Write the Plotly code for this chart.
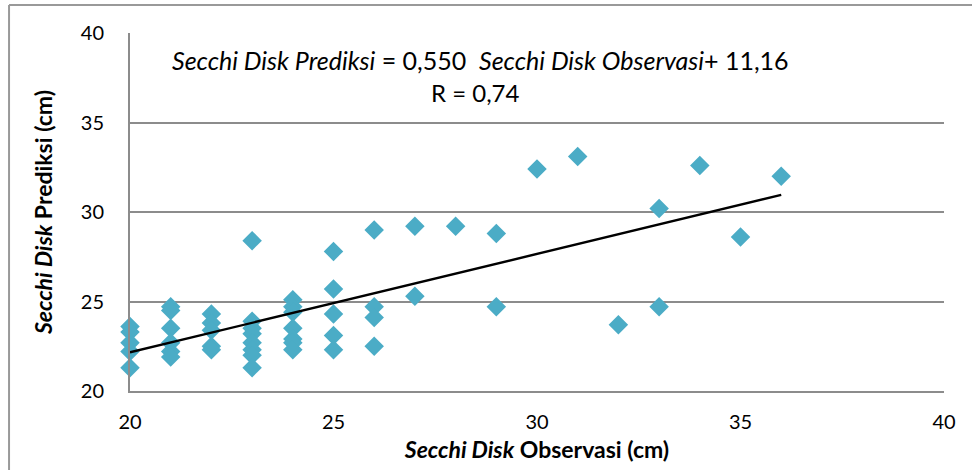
import plotly.graph_objects as go

# Observed (x) and predicted (y) Secchi disk depth, cm
obs_x = ([20] * 5 + [21] * 6 + [22] * 5 + [23] * 8 + [24] * 7 + [25] * 5 + [26] * 4
         + [27] * 2 + [28] + [29] * 2 + [30] + [31] + [32] + [33] * 2 + [34] + [35] + [36])
pred_y = [23.6, 23.3, 22.7, 22.2, 21.3,
          24.7, 24.5, 23.5, 22.7, 22.2, 21.9,
          24.3, 23.8, 23.4, 22.5, 22.3,
          28.4, 23.9, 23.5, 23.2, 22.7, 22.3, 22.0, 21.3,
          25.1, 24.7, 24.4, 23.5, 22.9, 22.7, 22.3,
          27.8, 25.7, 24.3, 23.1, 22.3,
          29.0, 24.7, 24.1, 22.5,
          29.2, 25.3,
          29.2,
          28.8, 24.7,
          32.4,
          33.1,
          23.7,
          30.2, 24.7,
          32.6,
          28.6,
          32.0]

slope = 0.550
intercept = 11.16
trend_x = [min(obs_x), max(obs_x)]
trend_y = [slope * v + intercept for v in trend_x]

x_ticks = [20, 25, 30, 35, 40]
y_ticks = [20, 25, 30, 35, 40]

FONT = "Lato, 'Open Sans', sans-serif"
GRID = "#8c8c8c"

fig = go.Figure()
fig.add_trace(go.Scatter(
    x=obs_x, y=pred_y, mode="markers",
    marker=dict(symbol="diamond", size=15, color="#4BACC6",
                line=dict(width=0)),
    cliponaxis=False, showlegend=False, hoverinfo="x+y"))
fig.add_trace(go.Scatter(
    x=trend_x, y=trend_y, mode="lines",
    line=dict(color="black", width=2.4),
    cliponaxis=False, showlegend=False))

fig.update_layout(
    width=972, height=470,
    margin=dict(l=130, r=28, t=33, b=79, autoexpand=False),
    paper_bgcolor="white", plot_bgcolor="white",
    font=dict(family=FONT, size=20, color="black"),
    xaxis=dict(range=[20, 40], tickvals=x_ticks, showgrid=False,
               zeroline=False, showline=True, linecolor=GRID, linewidth=2,
               ticks="outside", ticklen=12, tickcolor="rgba(0,0,0,0)",
               tickfont=dict(size=20), automargin=False,
               title=dict(text="<b><i>Secchi Disk</i> Observasi (cm)</b>",
                          font=dict(size=23), standoff=10)),
    yaxis=dict(range=[20, 40], tickvals=y_ticks, showgrid=True,
               gridcolor=GRID, gridwidth=1.5, zeroline=False,
               showline=True, linecolor=GRID, linewidth=2,
               ticks="outside", ticklen=20, tickcolor="rgba(0,0,0,0)",
               tickfont=dict(size=20), automargin=False,
               title=dict(text="<b><i>Secchi Disk</i> Prediksi (cm)</b>",
                          font=dict(size=23), standoff=22)),
    annotations=[
        dict(x=0.43, y=0.925, xref="paper", yref="paper", showarrow=False,
             text="<i>Secchi Disk Prediksi</i> = 0,550  <i>Secchi Disk Observasi</i>+ 11,16",
             font=dict(size=25), xanchor="center", yanchor="middle"),
        dict(x=0.424, y=0.835, xref="paper", yref="paper", showarrow=False,
             text="R = 0,74", font=dict(size=24),
             xanchor="center", yanchor="middle"),
    ],
    shapes=[
        dict(type="line", xref="paper", yref="paper",
             x0=-0.1486, x1=-0.1486, y0=1.078, y1=-0.3,
             line=dict(color="#999999", width=2)),
        dict(type="line", xref="paper", yref="paper",
             x0=-0.1486, x1=1.1, y0=1.078, y1=1.078,
             line=dict(color="#999999", width=2)),
    ],
)

fig.write_html("out.html", config={"displayModeBar": False},
               post_script="document.body.style.margin='0';document.body.style.overflow='hidden';")
